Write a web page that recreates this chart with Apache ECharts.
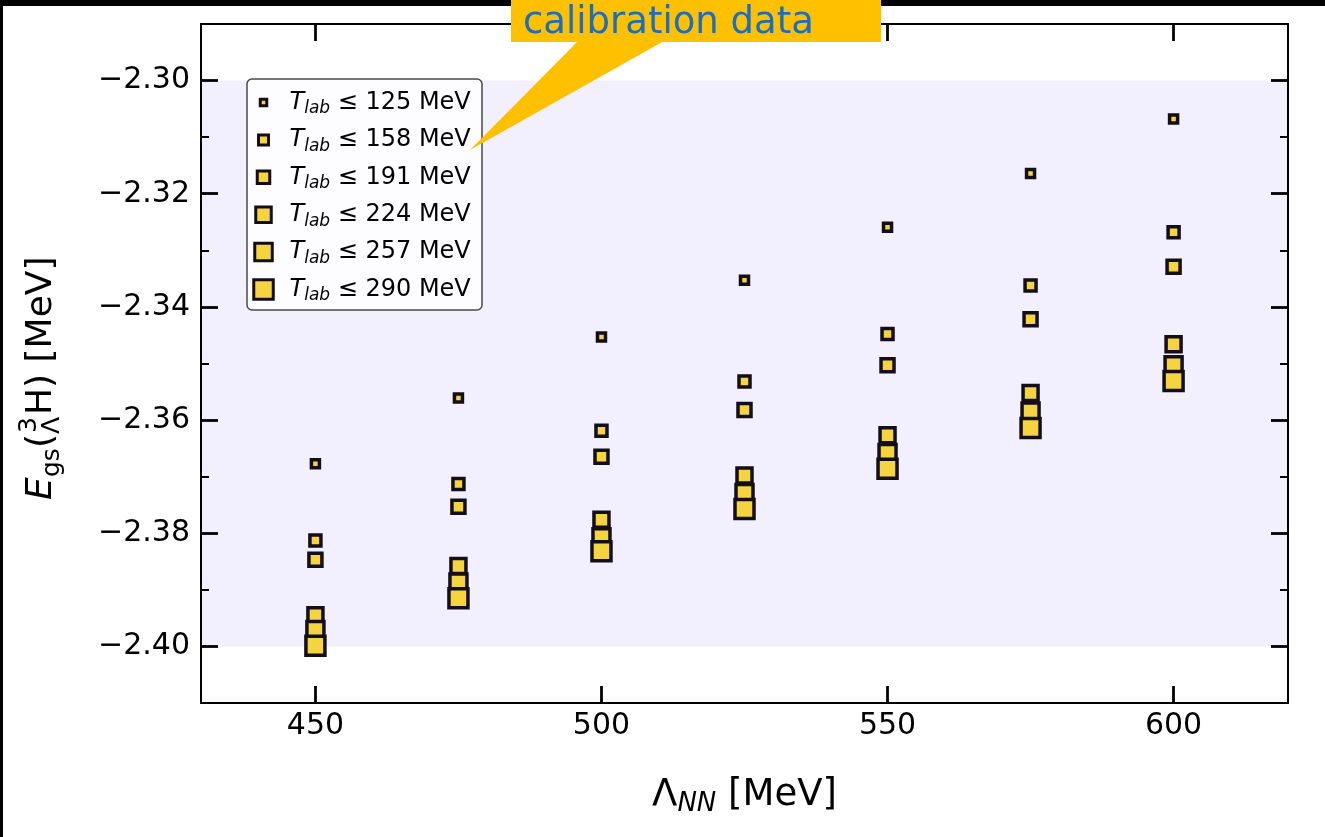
<!DOCTYPE html>
<html><head><meta charset="utf-8">
<script src="https://cdn.jsdelivr.net/npm/echarts@6/dist/echarts.min.js"></script>
<style>html,body{margin:0;padding:0;background:#fff}#c{width:1325px;height:837px}</style>
</head><body><div id="c"></div>
<script>
// ---------------- data ----------------
const lambdaNN = [450, 475, 500, 525, 550, 575, 600];
const tlabCuts = [125, 158, 191, 224, 257, 290];
const E_125 = [-2.3677, -2.3561, -2.3453, -2.3353, -2.3259, -2.3164, -2.3068];
const E_158 = [-2.3813, -2.3713, -2.3619, -2.3532, -2.3448, -2.3362, -2.3268];
const E_191 = [-2.3847, -2.3753, -2.3665, -2.3582, -2.3503, -2.3422, -2.3329];
const E_224 = [-2.3945, -2.3858, -2.3776, -2.3698, -2.3627, -2.3552, -2.3466];
const E_257 = [-2.3971, -2.3887, -2.3807, -2.3729, -2.3658, -2.3585, -2.3503];
const E_290 = [-2.3999, -2.3915, -2.3832, -2.3757, -2.3686, -2.3614, -2.3531];
const xTicks = [450, 500, 550, 600];
const yTicks = [-2.30, -2.32, -2.34, -2.36, -2.38, -2.40];
const yMinorTicks = [-2.31, -2.33, -2.35, -2.37, -2.39];
const band = [-2.40, -2.30];
const calloutText = 'calibration data';

// ---------------- style ----------------
const FILL = '#F4D53F', EDGE = '#140d1a', BAND = '#F2F0FE';
const FONT = 'DejaVu Sans';
const markerSizes = [8, 11, 13, 15, 17, 19];
const legendSizes = [6.5, 10, 12.5, 15.5, 17.5, 19.5];
const energies = [E_125, E_158, E_191, E_224, E_257, E_290];
const names = tlabCuts.map(t => 'T_lab ≤ ' + t + ' MeV');

function iconPath(s) {
  const a = 15 - s / 2, b = 15 + s / 2;
  return `path://M0,0M30,30M${a},${a}L${b},${a}L${b},${b}L${a},${b}Z`;
}
const fmtY = v => '\u2212' + Math.abs(v).toFixed(2);

const series = energies.map((arr, i) => ({
  type: 'scatter', name: names[i], xAxisIndex: 0, yAxisIndex: 0,
  symbol: 'rect', symbolSize: markerSizes[i], z: 3 + i,
  itemStyle: { color: FILL, borderColor: EDGE, borderWidth: 3.5, opacity: 1 },
  emphasis: { disabled: true },
  data: lambdaNN.map((x, j) => [x, arr[j]])
}));
series.unshift({
  type: 'scatter', name: 'band', data: [], z: 1, silent: true,
  markArea: { silent: true, itemStyle: { color: BAND }, data: [[{ yAxis: band[1] }, { yAxis: band[0] }]] }
});

const axisLine = { show: true, onZero: false, lineStyle: { color: '#000', width: 2 } };
const majorTick = vals => ({ show: true, inside: true, length: 17, customValues: vals, lineStyle: { color: '#000', width: 2.8 } });
const minorTick = vals => ({ show: true, inside: true, length: 8, customValues: vals, lineStyle: { color: '#000', width: 2 } });
const yBase = { type: 'value', min: -2.41, max: -2.29, splitLine: { show: false }, z: 8 };

const option = {
  animation: false,
  backgroundColor: '#fff',
  grid: { left: 201, right: 37, top: 24, bottom: 134 },
  xAxis: [
    {
      type: 'value', position: 'bottom', min: 430, max: 620, splitLine: { show: false }, z: 8,
      axisLine, axisTick: majorTick(xTicks),
      axisLabel: { customValues: xTicks, margin: 8, fontSize: 30, fontFamily: FONT, color: '#000' },
      name: '{a|Λ}{b|NN}{c| [MeV]}', nameLocation: 'middle', nameGap: 70,
      nameTextStyle: {
        color: '#000', fontFamily: FONT,
        rich: {
          a: { fontSize: 37, fontFamily: FONT, lineHeight: 44, color: '#000' },
          b: { fontSize: 26, fontFamily: FONT, fontStyle: 'italic', lineHeight: 26, verticalAlign: 'bottom', color: '#000' },
          c: { fontSize: 37, fontFamily: FONT, lineHeight: 44, color: '#000' }
        }
      }
    },
    {
      type: 'value', position: 'top', min: 430, max: 620, splitLine: { show: false }, z: 8,
      axisLine, axisTick: majorTick(xTicks), axisLabel: { show: false }
    }
  ],
  yAxis: [
    Object.assign({}, yBase, {
      position: 'left', axisLine, axisTick: majorTick(yTicks),
      axisLabel: { customValues: yTicks, formatter: fmtY, margin: 11, fontSize: 30, fontFamily: FONT, color: '#000' }
    }),
    Object.assign({}, yBase, { position: 'left', axisLine: { show: false }, axisTick: minorTick(yMinorTicks), axisLabel: { show: false } }),
    Object.assign({}, yBase, { position: 'right', axisLine, axisTick: majorTick(yTicks), axisLabel: { show: false } }),
    Object.assign({}, yBase, { position: 'right', axisLine: { show: false }, axisTick: minorTick(yMinorTicks), axisLabel: { show: false } })
  ],
  legend: {
    orient: 'vertical', left: 247, top: 86, padding: 0, itemGap: 4.4,
    itemWidth: 42, itemHeight: 30, z: 6, selectedMode: false,
    data: names.map((n, i) => ({ name: n, icon: iconPath(legendSizes[i]) })),
    itemStyle: { color: FILL, borderColor: EDGE, borderWidth: 3 },
    formatter: n => {
      const i = names.indexOf(n);
      return '{i|T}{s|lab}{n| ≤ ' + tlabCuts[i] + ' MeV}';
    },
    textStyle: {
      color: '#000', fontFamily: FONT, fontSize: 24,
      rich: {
        i: { fontSize: 24, fontFamily: FONT, fontStyle: 'italic', lineHeight: 30, color: '#000' },
        s: { fontSize: 17, fontFamily: FONT, fontStyle: 'italic', lineHeight: 18, verticalAlign: 'bottom', color: '#000' },
        n: { fontSize: 24, fontFamily: FONT, lineHeight: 30, color: '#000' }
      }
    }
  },
  graphic: [
    { type: 'rect', z: 5, silent: true, shape: { x: 247, y: 79, width: 235, height: 231, r: 5 },
      style: { fill: 'rgba(255,255,255,0.85)', stroke: '#4a4a4a', lineWidth: 1.5 } },
    { type: 'rect', z: 9, silent: true, shape: { x: 0, y: 0, width: 1325, height: 6 }, style: { fill: '#000' } },
    { type: 'rect', z: 9, silent: true, shape: { x: 0, y: 0, width: 3, height: 837 }, style: { fill: '#000' } },
    { type: 'polygon', z: 10, silent: true, shape: { points: [[578, 41], [664, 41], [470, 150]] },
      style: { fill: '#FFC000' } },
    { type: 'rect', z: 11, silent: true, shape: { x: 511, y: 0, width: 370, height: 42 },
      style: { fill: '#FFC000' } },
    { type: 'text', z: 12, silent: true, x: 523, y: 23,
      style: { text: calloutText, fontSize: 37, fontFamily: FONT, fill: '#1a6fc0', verticalAlign: 'middle' } },
    {
      type: 'group', x: 42, y: 500, rotation: Math.PI / 2, z: 10, silent: true,
      children: [
        { type: 'text', x: 0, y: 0, style: { text: 'E', fontSize: 36, fontStyle: 'italic', fontFamily: FONT, fill: '#000', verticalAlign: 'middle' } },
        { type: 'text', x: 23, y: 10, style: { text: 'gs', fontSize: 25, fontFamily: FONT, fill: '#000', verticalAlign: 'middle' } },
        { type: 'text', x: 52, y: 0, style: { text: '(', fontSize: 36, fontFamily: FONT, fill: '#000', verticalAlign: 'middle' } },
        { type: 'text', x: 67, y: -13, style: { text: '3', fontSize: 25, fontFamily: FONT, fill: '#000', verticalAlign: 'middle' } },
        { type: 'text', x: 66, y: 10, style: { text: 'Λ', fontSize: 25, fontFamily: FONT, fill: '#000', verticalAlign: 'middle' } },
        { type: 'text', x: 85, y: 0, style: { text: 'H) [MeV]', fontSize: 36, fontFamily: FONT, fill: '#000', verticalAlign: 'middle' } }
      ]
    }
  ],
  series
};
const chart = echarts.init(document.getElementById('c'), null, { renderer: 'canvas' });
chart.setOption(option);
</script>
</body></html>
